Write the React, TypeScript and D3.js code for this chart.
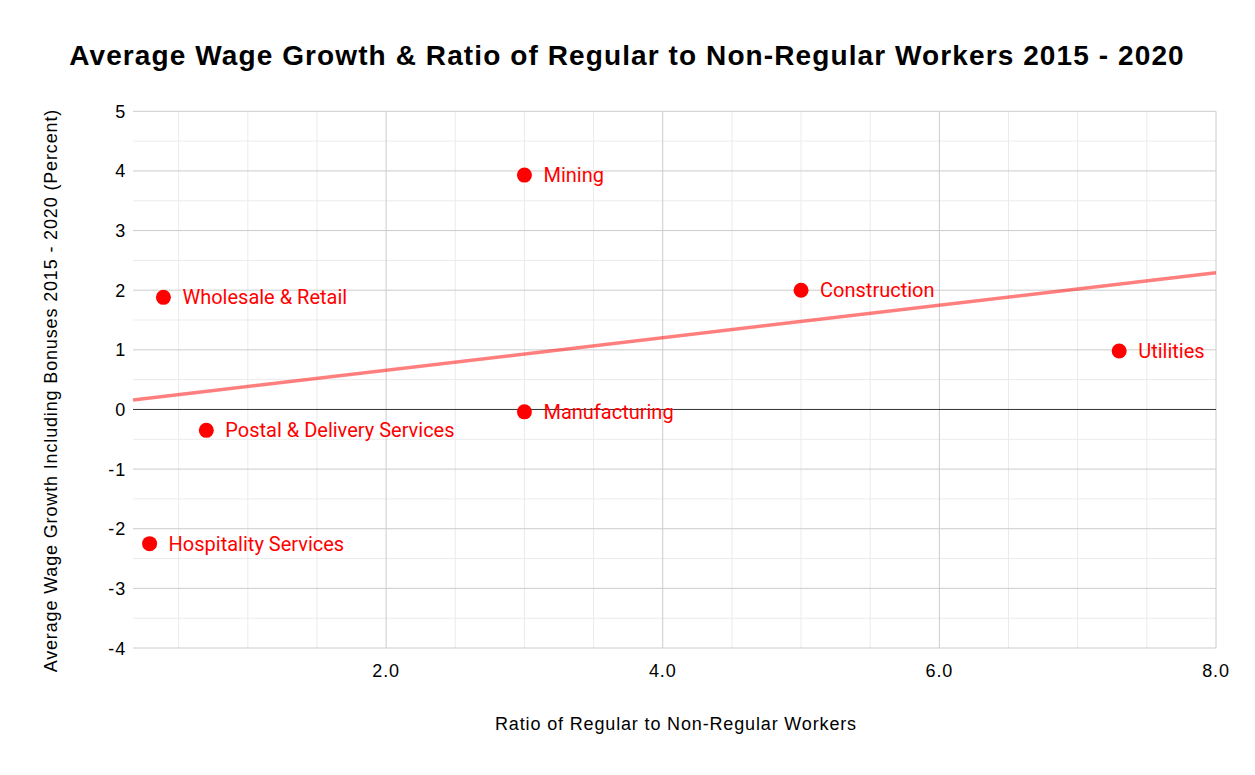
import React from "react";
import * as d3 from "d3";

const industries = ["Mining", "Wholesale & Retail", "Construction", "Utilities", "Manufacturing", "Postal & Delivery Services", "Hospitality Services"];
const ratios = [3.0, 0.39, 5.0, 7.3, 3.0, 0.7, 0.29];
const wageGrowth = [3.93, 1.88, 2.0, 0.98, -0.04, -0.35, -2.25];
const xTicks = [2, 4, 6, 8];
const yTicks = [5, 4, 3, 2, 1, 0, -1, -2, -3, -4];

const W = 1255, H = 775;
const M = { left: 133, right: 1216, top: 111.3, bottom: 648 };

export default function App() {
  const x = d3.scaleLinear().domain([0.17, 8]).range([M.left, M.right]);
  const y = d3.scaleLinear().domain([-4, 5]).range([M.bottom, M.top]);

  const mx = d3.mean(ratios)!;
  const my = d3.mean(wageGrowth)!;
  let sxy = 0, sxx = 0;
  ratios.forEach((v, i) => { sxy += (v - mx) * (wageGrowth[i] - my); sxx += (v - mx) ** 2; });
  const slope = sxy / sxx;
  const intercept = my - slope * mx;
  const [d0, d1] = x.domain();
  const trend = d3.line<number>().x(d => x(d)).y(d => y(slope * d + intercept))([d0, d1]);

  const minorX = d3.range(0.5, 8.01, 0.5).filter(v => v >= d0 && !xTicks.includes(v));
  const minorY = d3.range(-3.5, 5, 1);

  const sans = "Arial, 'Liberation Sans', sans-serif";
  const roboto = "Roboto, Arial, sans-serif";
  const ls = 0.85;

  return (
    <svg width={W} height={H} style={{ display: "block", position: "absolute", left: 0, top: 0 }}>
      <rect width={W} height={H} fill="#fff" />
      <text x={627} y={65} textAnchor="middle" fontFamily={sans} fontWeight="bold" fontSize={28} letterSpacing={1.1} fill="#000">
        Average Wage Growth &amp; Ratio of Regular to Non-Regular Workers 2015 - 2020
      </text>
      {minorY.map(v => (
        <line key={"my" + v} x1={M.left} x2={M.right} y1={y(v)} y2={y(v)} stroke="#ebebeb" strokeWidth={1} />
      ))}
      {minorX.map(v => (
        <line key={"mx" + v} x1={x(v)} x2={x(v)} y1={M.top} y2={M.bottom} stroke="#ebebeb" strokeWidth={1} />
      ))}
      {yTicks.filter(v => v !== 0).map(v => (
        <line key={"gy" + v} x1={M.left} x2={M.right} y1={y(v)} y2={y(v)} stroke="#cccccc" strokeWidth={1} />
      ))}
      {xTicks.map(v => (
        <line key={"gx" + v} x1={x(v)} x2={x(v)} y1={M.top} y2={M.bottom} stroke="#cccccc" strokeWidth={1} />
      ))}
      <line x1={M.left} x2={M.right} y1={y(0)} y2={y(0)} stroke="#333" strokeWidth={1} />
      {yTicks.map(v => (
        <text key={"ty" + v} x={126} y={y(v) + 6.5} textAnchor="end" fontFamily={sans} fontSize={18} letterSpacing={ls} fill="#000">{v}</text>
      ))}
      {xTicks.map(v => (
        <text key={"tx" + v} x={x(v)} y={677} textAnchor="middle" fontFamily={sans} fontSize={18} letterSpacing={ls} fill="#000">{d3.format(".1f")(v)}</text>
      ))}
      <text x={676} y={730} textAnchor="middle" fontFamily={sans} fontSize={18} letterSpacing={ls} fill="#000">Ratio of Regular to Non-Regular Workers</text>
      <text transform={`translate(57, ${(M.top + M.bottom) / 2 + 11}) rotate(-90)`} textAnchor="middle" fontFamily={sans} fontSize={18} letterSpacing={ls} fill="#000">
        Average Wage Growth Including Bonuses 2015 - 2020 (Percent)
      </text>
      <path d={trend!} stroke="#ff0000" strokeOpacity={0.5} strokeWidth={3.5} fill="none" />
      {industries.map((name, i) => (
        <g key={name}>
          <circle cx={x(ratios[i])} cy={y(wageGrowth[i])} r={7.5} fill="#ff0000" />
          <text x={x(ratios[i]) + 19} y={y(wageGrowth[i]) + 7} fontFamily={roboto} fontSize={20} fill="#ff0000">{name}</text>
        </g>
      ))}
    </svg>
  );
}
